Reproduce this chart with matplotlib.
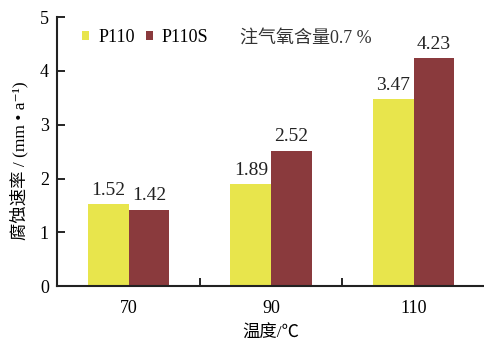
import matplotlib
matplotlib.use("Agg")
import matplotlib.pyplot as plt
import numpy as np

plt.rcParams['font.family'] = ['Liberation Serif', 'Noto Sans CJK SC', 'DejaVu Serif']

temps = ["70", "90", "110"]
p110 = [1.52, 1.89, 3.47]
p110s = [1.42, 2.52, 4.23]
series_names = ["P110", "P110S"]
colors = ["#E8E54C", "#8A3A3D"]

fig = plt.figure(figsize=(4.85, 3.4), dpi=100)
ax = fig.add_axes([0.118, 0.158, 0.882, 0.792])

x = np.arange(len(temps))
w = 0.285
b1 = ax.bar(x - w / 2, p110, width=w, color=colors[0], label=series_names[0])
b2 = ax.bar(x + w / 2, p110s, width=w, color=colors[1], label=series_names[1])

for bars, vals in ((b1, p110), (b2, p110s)):
    for rect, v in zip(bars, vals):
        ax.text(rect.get_x() + rect.get_width() / 2, v + 0.1, f"{v:.2f}",
                ha="center", va="bottom", fontsize=14, color="#222222")

ax.set_xlim(-0.5, 2.5)
ax.set_ylim(0, 5)
ax.set_yticks(range(6))
ax.set_xticks(x)
ax.set_xticklabels(temps)
ax.set_xticks([0.5, 1.5], minor=True)
ax.tick_params(axis="x", which="major", length=0, pad=10, labelsize=13)
ax.tick_params(axis="x", which="minor", direction="in", length=6, width=1.2)
ax.tick_params(axis="y", direction="in", length=6, width=1.2, labelsize=13, pad=6)
for s in ("top", "right"):
    ax.spines[s].set_visible(False)
for s in ("left", "bottom"):
    ax.spines[s].set_linewidth(1.5)
    ax.spines[s].set_color("#222222")

ax.set_xlabel("温度/℃", fontsize=12.5, labelpad=6)
ax.set_ylabel("腐蚀速率 / (mm • a⁻¹)", fontsize=12.5)
ax.yaxis.set_label_coords(-0.068, 0.465)

leg = ax.legend(loc="upper left", bbox_to_anchor=(0.058, 0.955), ncol=2, frameon=False,
                fontsize=13, handlelength=0.4, handleheight=0.4, handletextpad=0.5,
                columnspacing=0.6, borderpad=0, borderaxespad=0)
ax.text(0.428, 0.92, "注气氧含量0.7 %", transform=ax.transAxes, fontsize=13,
        ha="left", va="center", color="#333333")

fig.savefig("out.png", dpi=100)
